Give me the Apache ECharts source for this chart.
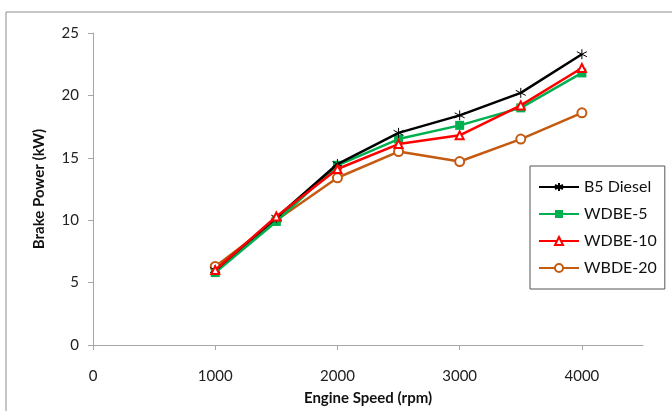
<!DOCTYPE html>
<html>
<head>
    <meta charset="utf-8">
    <script type="text/javascript" src="https://cdn.jsdelivr.net/npm/echarts@6/dist/echarts.min.js"></script>
    <title>Brake Power</title>
    <style>
        body { margin: 0; background: #fff; }
    </style>
</head>
<body>
    <div id="container" style="width:672px;height:411px;"></div>
    <script type="text/javascript">
    // engine speed (rpm)
    var speeds = [1000, 1500, 2000, 2500, 3000, 3500, 4000];
    // brake power (kW)
    var b5Diesel = [6.0, 10.2, 14.5, 17.0, 18.4, 20.2, 23.3];
    var wdbe5    = [5.8, 9.9, 14.4, 16.5, 17.6, 19.0, 21.8];
    var wdbe10   = [6.0, 10.3, 14.1, 16.1, 16.8, 19.2, 22.2];
    var wbde20   = [6.3, 10.0, 13.4, 15.5, 14.7, 16.5, 18.6];
    var xTicks = [0, 1000, 2000, 3000, 4000];

    function pairs(vals) {
        return speeds.map(function (s, i) { return [s, vals[i]]; });
    }

    var font = 'Lato, "Open Sans", sans-serif';
    var asterisk = 'path://M0,-10L0,10M-8.66,-5L8.66,5M-8.66,5L8.66,-5';

    var myChart = echarts.init(document.getElementById('container'));

    var option = {
        animation: false,
        backgroundColor: '#fff',
        textStyle: { fontFamily: font },
        graphic: [{
            type: 'polyline',
            shape: { points: [[6, 411], [6, 12], [672, 12]] },
            style: { stroke: '#8c8c8c', lineWidth: 1, fill: null }
        }],
        grid: { left: 93, right: 29, top: 33, bottom: 62 },
        legend: {
            orient: 'vertical',
            left: 530,
            top: 166,
            padding: [13, 8, 13, 8],
            itemWidth: 40,
            itemHeight: 10,
            itemGap: 11,
            borderColor: '#555',
            borderWidth: 1,
            textStyle: { fontFamily: font, fontSize: 16, color: '#111' },
            data: ['B5 Diesel', 'WDBE-5', 'WDBE-10', 'WBDE-20']
        },
        xAxis: {
            type: 'value',
            min: 0,
            max: 4500,
            interval: 1000,
            name: 'Engine Speed (rpm)',
            nameLocation: 'middle',
            nameGap: 46,
            nameTextStyle: { fontFamily: font, fontSize: 15, fontWeight: 'bold', color: '#111' },
            axisLine: { lineStyle: { color: '#a6a6a6' } },
            axisTick: { show: true, length: 5, lineStyle: { color: '#a6a6a6' }, customValues: xTicks },
            axisLabel: {
                fontSize: 15, color: '#222', margin: 24, customValues: xTicks,
                formatter: function (v) { return String(v); }
            },
            splitLine: { show: false }
        },
        yAxis: {
            type: 'value',
            min: 0,
            max: 25,
            interval: 5,
            name: 'Brake Power (kW)',
            nameLocation: 'middle',
            nameGap: 46,
            nameTextStyle: { fontFamily: font, fontSize: 15, fontWeight: 'bold', color: '#111' },
            axisLine: { show: true, lineStyle: { color: '#a6a6a6' } },
            axisTick: { show: true, length: 5, lineStyle: { color: '#a6a6a6' } },
            axisLabel: { fontSize: 15, color: '#222', margin: 14 },
            splitLine: { show: false }
        },
        series: [{
            name: 'B5 Diesel',
            type: 'line',
            data: pairs(b5Diesel),
            symbol: asterisk,
            symbolSize: 10,
            lineStyle: { color: '#000', width: 2.5 },
            itemStyle: { color: '#000', borderColor: '#000', borderWidth: 1 },
            z: 5
        }, {
            name: 'WDBE-5',
            type: 'line',
            data: pairs(wdbe5),
            symbol: 'rect',
            symbolSize: 9,
            lineStyle: { color: '#00b050', width: 2.5 },
            itemStyle: { color: '#00b050' },
            z: 4
        }, {
            name: 'WDBE-10',
            type: 'line',
            data: pairs(wdbe10),
            symbol: 'emptyTriangle',
            symbolSize: 8,
            lineStyle: { color: '#ff0000', width: 2.5 },
            itemStyle: { color: '#ff0000', borderWidth: 1 },
            z: 6
        }, {
            name: 'WBDE-20',
            type: 'line',
            data: pairs(wbde20),
            symbol: 'emptyCircle',
            symbolSize: 9,
            lineStyle: { color: '#c55a11', width: 2.5 },
            itemStyle: { color: '#c55a11', borderWidth: 1 },
            z: 3
        }]
    };

    myChart.setOption(option);
    </script>
</body>
</html>
